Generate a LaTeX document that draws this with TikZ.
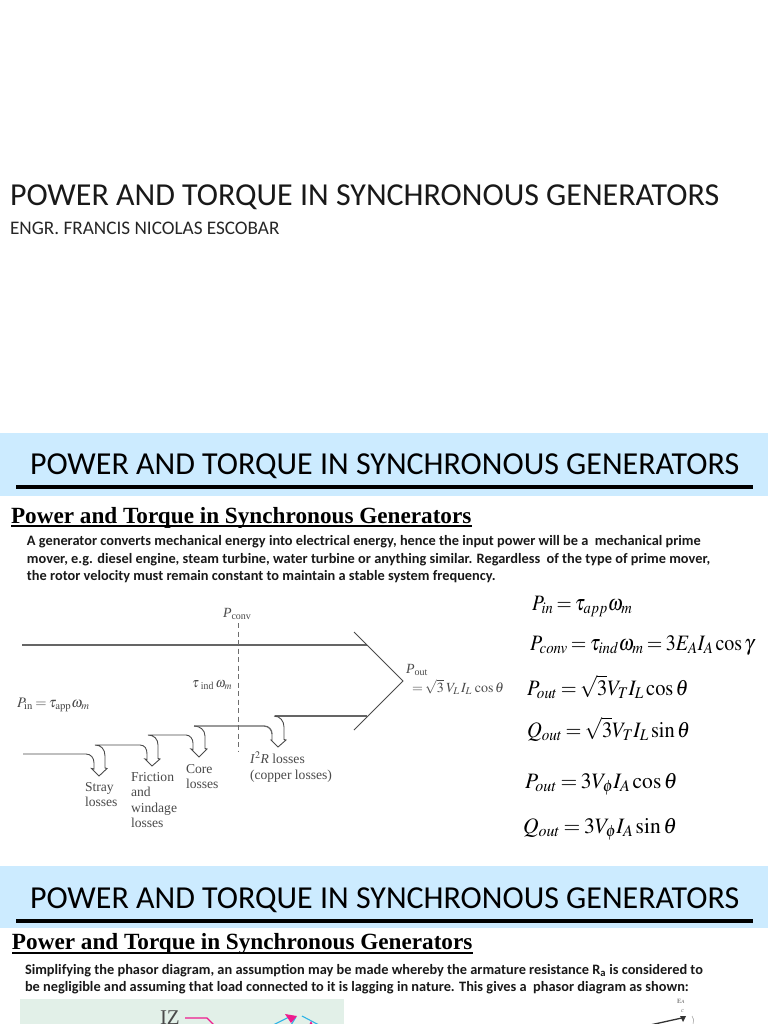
\documentclass[tikz,border=0pt]{standalone}
\usepackage{mathptmx}
\usepackage[no-math]{fontspec}
\setmainfont{Carlito}
\newfontfamily\serifb{Liberation Serif}
\usetikzlibrary{calc}
\definecolor{bandblue}{HTML}{CCEBFF}
\definecolor{softgreen}{HTML}{E2F0E8}
\definecolor{ink}{HTML}{4A4A4A}
\definecolor{hotpink}{HTML}{EE1C8E}
\definecolor{skyline}{HTML}{2FB4E6}
\thickmuskip=3mu plus 1mu
\tikzset{
  txt/.style={inner sep=0pt,outer sep=0pt,anchor=base west},
  maintitle/.style={txt,font=\fontsize{32}{35}\selectfont,text=black!90},
  subt/.style={txt,font=\fontsize{19.2}{22}\selectfont,text=black!85},
  bandtitle/.style={txt,font=\fontsize{32}{35}\selectfont,text=black},
  heading/.style={txt,font=\serifb\bfseries\fontsize{23.2}{26}\selectfont,text=black},
  para/.style={txt,font=\bfseries\fontsize{14.35}{16}\selectfont,text=black!90},
  eqn/.style={txt,font=\fontsize{22}{24}\selectfont,text=black},
  lab/.style={inner sep=0pt,outer sep=0pt,anchor=north west,align=left,font=\serifb\fontsize{13.6}{15.5}\selectfont,text=ink},
  labb/.style={txt,font=\serifb\fontsize{14}{15}\selectfont,text=ink},
  flowmath/.style={txt,text=ink,font=\fontsize{14}{15}\selectfont},
  flow/.style={draw=ink,line width=0.9pt,line join=miter},
  flowthick/.style={draw=ink!85,line width=1.3pt},
  band/.style={fill=bandblue,draw=none},
  rule/.style={fill=black,draw=none},
}
\begin{document}
\begin{tikzpicture}[x=1pt,y=-1pt]
\useasboundingbox (0,0) rectangle (768,1024);
\fill[white] (0,0) rectangle (768,1024);
% Cover title
\node[maintitle] (t1) at (10,206) {POWER AND TORQUE IN SYNCHRONOUS GENERATORS};
\node[subt] (t2) at (10,234) {ENGR. FRANCIS NICOLAS ESCOBAR};
% Slide 2
\fill[band] (0,433) rectangle (768,495.5);
\fill[rule] (16,485) rectangle (753,489);
\node[bandtitle] (b1) at (30,474.5) {POWER AND TORQUE IN SYNCHRONOUS GENERATORS};
\node[heading] (h1) at (11,523) {Power and Torque in Synchronous Generators};
\draw[black,line width=1.2pt] (11,526) -- (472,526);
\node[para] (p1) at (27,545.5) {A generator converts mechanical energy into electrical energy, hence the input power will be a\ \ mechanical prime};
\node[para] (p2) at (27,563) {mover, e.g. diesel engine, steam turbine, water turbine or anything similar. Regardless\ \ of the type of prime mover,};
\node[para] (p3) at (27,580.5) {the rotor velocity must remain constant to maintain a stable system frequency.};
% Flow diagram
\draw[flowthick] (22,645) -- (367,645);
\draw[flow] (354,632) -- (403,681) -- (354,730);
\draw[flowthick] (275,716) -- (367,716);
\draw[draw=ink!80,line width=0.9pt,dash pattern=on 5pt off 3.5pt] (238,623) -- (238,752);
% stray
\draw[flow] (23,754) -- (86,754) .. controls (91,754) and (94,758) .. (94,763) -- (94,769) -- (91.5,768.5) -- (99,776) -- (107,768.5) -- (105,768) -- (105,756) .. controls (105,749) and (101,745) .. (95,745) -- (140,745) .. controls (145,745) and (147,749) .. (147,754) -- (147,759.5) -- (145,759) -- (152,766) -- (160,759) -- (158,758.5) -- (158,745) .. controls (158,739) and (154,735) .. (148,735) -- (186,735) .. controls (190,735) and (193,739) .. (193,743) -- (193,749.5) -- (191,749) -- (199,757) -- (207,749) -- (205,748.5) -- (205,736) .. controls (205,730) and (200,726) .. (194,726);
\draw[flowthick] (194,726) -- (264,726) .. controls (269,726) and (272,730) .. (272,734);
\draw[flow] (272,734) -- (272,740) -- (271,740) -- (278,747) -- (286,740) -- (284,739.5) -- (284,727) .. controls (284,721) and (280,716) .. (274,716);
% diagram labels
\node[labb] (pconv) at (223,617) {\textit{P}\raisebox{-2.5pt}{\fontsize{10}{10}\selectfont conv}};
\node[flowmath] (tind) at (192,687) {\scalebox{0.93}[1]{$\tau$\,\raisebox{-2pt}{\serifb\fontsize{10.5}{10}\selectfont ind}\,$\omega_m$}};
\node[flowmath,font=\fontsize{14.5}{15}\selectfont] (pin) at (17,707) {$P_{\mathrm{in}}=\tau_{\mathrm{app}}\omega_m$};
\node[lab] (stray) at (85,782) {Stray\\losses};
\node[lab] (friction) at (131,772) {Friction\\and\\windage\\losses};
\node[lab] (core) at (186,764) {Core\\losses};
\node[lab] (i2r) at (250,752) {\textit{I}$^{2}$\textit{R} losses\\(copper losses)};
\node[labb] (pout) at (406,673) {\textit{P}\raisebox{-2.5pt}{\fontsize{10}{10}\selectfont out}};
\node[flowmath] (poute) at (412,692) {$=\sqrt{3}\;V_L\,I_L\,\cos\theta$};
% Equations
\node[eqn] (e1) at (532,610) {\scalebox{0.89}[1]{$P_{in}=\tau_{app}\omega_m$}};
\node[eqn] (e2) at (530,650) {\scalebox{0.91}[1]{$P_{conv}=\tau_{ind}\omega_m=3E_AI_A\cos\gamma$}};
\node[eqn] (e3) at (527,695) {\scalebox{0.93}[1]{$P_{out}=\sqrt{3}V_TI_L\cos\theta$}};
\node[eqn] (e4) at (527,737) {\scalebox{0.93}[1]{$Q_{out}=\sqrt{3}V_TI_L\sin\theta$}};
\node[eqn] (e5) at (525,788) {\scalebox{0.98}[1]{$P_{out}=3V_\phi I_A\cos\theta$}};
\node[eqn] (e6) at (523,833) {\scalebox{0.98}[1]{$Q_{out}=3V_\phi I_A\sin\theta$}};
% Slide 3
\fill[band] (0,866) rectangle (768,928);
\fill[rule] (16,918.5) rectangle (753,922.5);
\node[bandtitle] (b2) at (30,908) {POWER AND TORQUE IN SYNCHRONOUS GENERATORS};
\node[heading] (h2) at (12,949.5) {Power and Torque in Synchronous Generators};
\draw[black,line width=1.2pt] (12,953) -- (473,953);
\node[para] (q1) at (25,974.5) {Simplifying the phasor diagram, an assumption may be made whereby the armature resistance R\textsubscript{a} is considered to};
\node[para] (q2) at (25,991.5) {be negligible and assuming that load connected to it is lagging in nature. This gives a\ \ phasor diagram as shown:};
% Cropped phasor pictures
\fill[softgreen] (20,999) rectangle (344,1024);
\begin{scope}
\clip (0,990) rectangle (768,1024);
\node[txt,font=\serifb\fontsize{21}{22}\selectfont,text=ink] (iz) at (160,1024) {IZ};
\draw[hotpink,line width=1.1pt] (185,1018) -- (207,1018) -- (214,1025);
\draw[skyline,line width=1.1pt] (273,1025) -- (291,1016);
\draw[skyline,line width=1.1pt] (296,1017) -- (291,1025);
\draw[skyline,line width=1.1pt] (302,1016) -- (319,1025);
\fill[hotpink] (285,1014) -- (297,1016) -- (291,1023) -- cycle;
\fill[hotpink] (309,1025) -- (311,1021) -- (313,1025) -- cycle;
\draw[black!80,line width=1.3pt] (650,1025) -- (684,1017.5);
\fill[black!80] (686,1016) -- (680,1016) -- (683,1022) -- cycle;
\node[txt,font=\serifb\bfseries\fontsize{6.5}{7}\selectfont,text=black!50] (ea) at (677,1003) {E\textsubscript{\textit{A}}};
\node[txt,font=\serifb\itshape\fontsize{6.5}{7}\selectfont,text=black!50] (cc) at (681,1012) {c};
\draw[black!40,line width=0.5pt] (692,1016) .. controls (694,1018) and (694,1021) .. (693,1024);
\end{scope}
\end{tikzpicture}
\end{document}
